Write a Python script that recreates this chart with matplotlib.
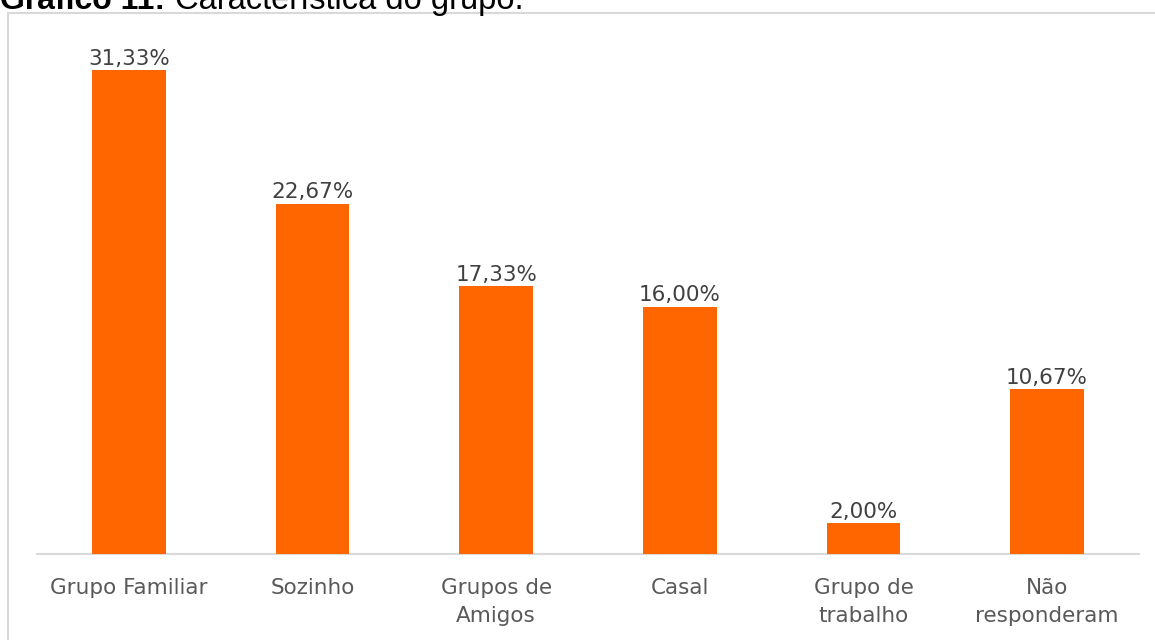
import matplotlib.pyplot as plt
from matplotlib.patches import Rectangle

# --- data ---
categories = ["Grupo Familiar", "Sozinho", "Grupos de\nAmigos", "Casal",
              "Grupo de\ntrabalho", "Não\nresponderam"]
values = [31.33, 22.67, 17.33, 16.00, 2.00, 10.67]
labels = ["31,33%", "22,67%", "17,33%", "16,00%", "2,00%", "10,67%"]

BAR_COLOR = "#FF6600"
TEXT_COLOR = "#595959"
GRID_COLOR = "#D9D9D9"

fig = plt.figure(figsize=(11.55, 6.4), dpi=100)

# chart frame (only top/left visible in the crop)
W, H = 1155, 640
fig.patches.append(Rectangle((8 / W, -0.1), 1.2, 1 - 13 / H + 0.1,
                             transform=fig.transFigure, fill=False,
                             edgecolor=GRID_COLOR, linewidth=1.5))

# title, cut off at the top edge like in the source image
fig.text(0.0, 1 - 9 / H, "Gráfico 11:", fontsize=23, fontweight="bold",
         family="Liberation Sans", color="black", va="baseline", ha="left")
fig.text(175 / W, 1 - 9 / H, "Característica do grupo.", fontsize=23.5,
         family="Liberation Sans", color="black", va="baseline", ha="left")

ax = fig.add_axes([37 / W, 1 - 554 / H, 1102 / W, (554 - 28.7) / H])
x = range(len(categories))
bars = ax.bar(x, values, width=0.4, color=BAR_COLOR, zorder=2)

for b, lab in zip(bars, labels):
    ax.annotate(lab, (b.get_x() + b.get_width() / 2, b.get_height()),
                xytext=(0, 1), textcoords="offset points", ha="center",
                va="bottom", fontsize=15.5, color="#404040")

ax.set_xlim(-0.5, len(categories) - 0.5)
ax.set_ylim(0, 34)
ax.set_xticks(list(x))
ax.set_xticklabels(categories, fontsize=15.5, color=TEXT_COLOR, linespacing=1.55)
ax.tick_params(axis="x", length=0, pad=17)
ax.set_yticks([])
for s in ["top", "right", "left"]:
    ax.spines[s].set_visible(False)
ax.spines["bottom"].set_color(GRID_COLOR)
ax.spines["bottom"].set_linewidth(1.5)
ax.spines["bottom"].set_zorder(1)

fig.savefig("out.png", dpi=100)
